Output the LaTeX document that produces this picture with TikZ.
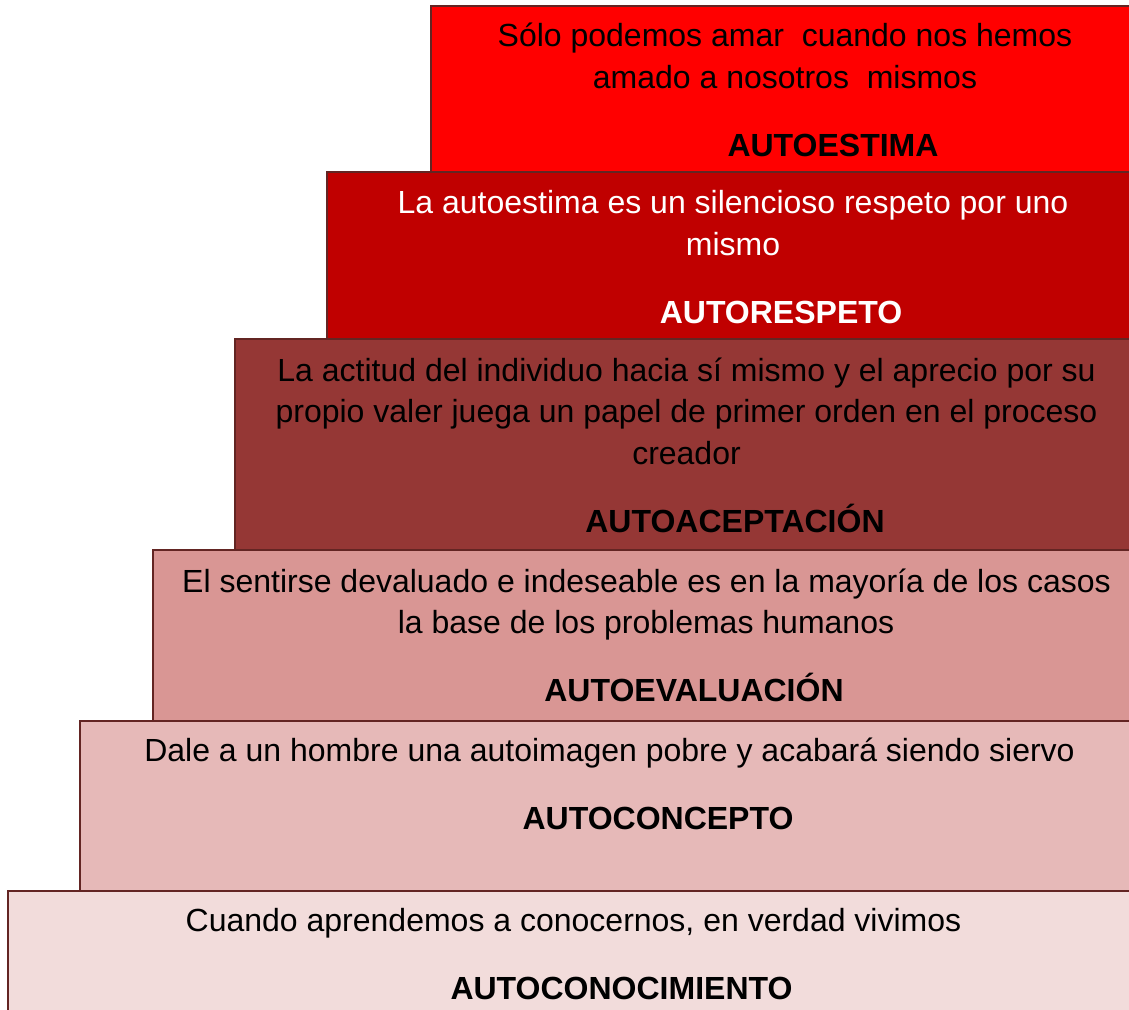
\documentclass[tikz,border=0pt]{standalone}
\usepackage{fontspec}
\setmainfont{Liberation Sans}
\definecolor{edge}{HTML}{632523}
\definecolor{s1}{HTML}{F2DCDB}
\definecolor{s2}{HTML}{E6B9B8}
\definecolor{s3}{HTML}{D99694}
\definecolor{s4}{HTML}{953735}
\definecolor{s5}{HTML}{C00000}
\definecolor{s6}{HTML}{FF0000}
\tikzset{stair/.style={draw=edge,line width=2pt,inner sep=0pt,outer sep=0pt},
 txt/.style={font=\fontsize{32pt}{32pt}\selectfont,anchor=base,inner sep=0pt},
 ttl/.style={txt,font=\fontsize{32pt}{32pt}\selectfont\bfseries}}
\begin{document}
\begin{tikzpicture}[x=1pt,y=-1pt]
\useasboundingbox (0,0) rectangle (1129,1009);
\path[stair,fill=s1] (8.3,891.3) rectangle (1140,1020);
\path[stair,fill=s2] (80.3,721.3) rectangle (1140,891.3);
\path[stair,fill=s3] (153.3,550.3) rectangle (1140,721.3);
\path[stair,fill=s4] (235.3,339.3) rectangle (1140,550.3);
\path[stair,fill=s5] (327.3,172.3) rectangle (1140,339.3);
\path[stair,fill=s6] (431.3,6.3) rectangle (1140,172.3);
\node[txt] (a1) at (785,46.5) {Sólo podemos amar\ \ cuando nos hemos};
\node[txt] (a2) at (785,88.5) {amado a nosotros\ \ mismos};
\node[ttl] (a3) at (833,156) {AUTOESTIMA};
\node[txt,text=white] (b1) at (733,213.5) {La autoestima es un silencioso respeto por uno};
\node[txt,text=white] (b2) at (733,255) {mismo};
\node[ttl,text=white] (b3) at (781,323) {AUTORESPETO};
\node[txt] (c1) at (686.5,381) {La actitud del individuo hacia sí mismo y el aprecio por su};
\node[txt] (c2) at (686.5,422.5) {propio valer juega un papel de primer orden en el proceso};
\node[txt] (c3) at (686.5,464) {creador};
\node[ttl] (c4) at (735,532) {AUTOACEPTACIÓN};
\node[txt] (d1) at (646.5,592) {El sentirse devaluado e indeseable es en la mayoría de los casos};
\node[txt] (d2) at (646,633.5) {la base de los problemas humanos};
\node[ttl] (d3) at (694,701) {AUTOEVALUACIÓN};
\node[txt] (e1) at (609.5,761) {Dale a un hombre una autoimagen pobre y acabará siendo siervo};
\node[ttl] (e2) at (658,829) {AUTOCONCEPTO};
\node[txt] (f1) at (573.5,931) {Cuando aprendemos a conocernos, en verdad vivimos};
\node[ttl] (f2) at (621.5,999) {AUTOCONOCIMIENTO};
\end{tikzpicture}
\end{document}
